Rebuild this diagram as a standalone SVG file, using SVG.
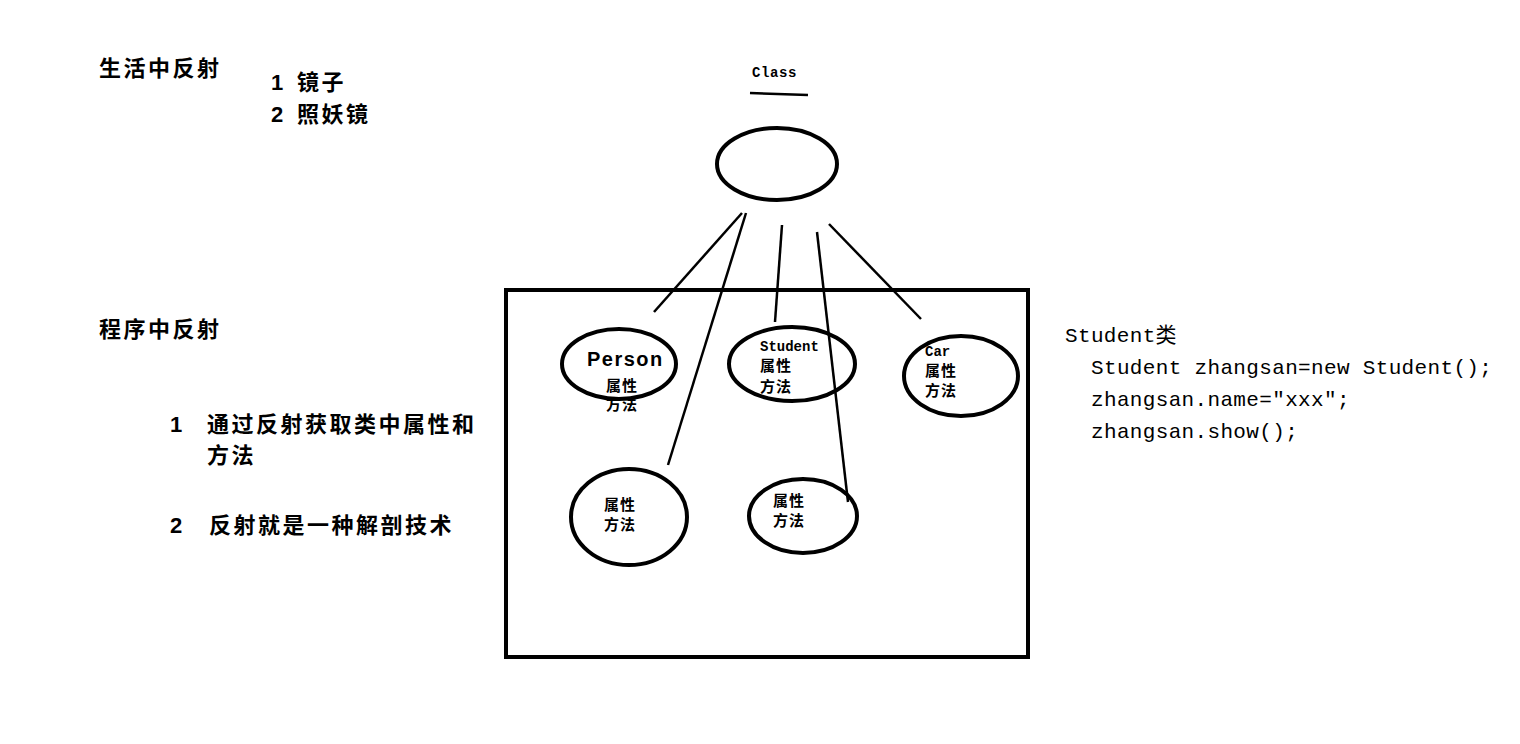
<svg xmlns="http://www.w3.org/2000/svg" width="1520" height="744" viewBox="0 0 1520 744">
<style>
.cjk{font-family:"Liberation Sans","Noto Sans CJK SC",sans-serif;font-weight:bold;fill:#000}
.h{font-size:22px;letter-spacing:2.5px}
.s{font-size:15px;letter-spacing:1px}
.mono{font-family:"Liberation Mono","Noto Sans CJK SC",monospace;fill:#000}
.code{font-size:21px;letter-spacing:0.34px}
.lbl{font-size:14px;font-weight:bold}
.ell{fill:none;stroke:#000;stroke-width:4}
.ln{stroke:#000;stroke-width:2.5;fill:none}
</style>
<rect width="1520" height="744" fill="#fff"/>
<g id="text-left">
<text class="cjk h" x="99" y="76">生活中反射</text>
<text class="cjk h" x="271" y="90">1</text>
<text class="cjk h" x="297" y="90">镜子</text>
<text class="cjk h" x="271" y="122">2</text>
<text class="cjk h" x="297" y="122">照妖镜</text>
<text class="cjk h" x="99" y="337">程序中反射</text>
<text class="cjk h" x="170" y="432">1</text>
<text class="cjk h" x="207" y="432">通过反射获取类中属性和</text>
<text class="cjk h" x="207" y="463">方法</text>
<text class="cjk h" x="170" y="533">2</text>
<text class="cjk h" x="209" y="533">反射就是一种解剖技术</text>
</g>
<g id="class-node">
<text class="mono lbl" x="752" y="77" letter-spacing="0.6">Class</text>
<path class="ln" d="M750 93 L808 95"/>
<ellipse class="ell" cx="777" cy="164" rx="60" ry="36"/>
</g>
<g id="container">
<rect x="506" y="290" width="522" height="367" fill="none" stroke="#000" stroke-width="4"/>
</g>
<g id="connectors">
<path class="ln" d="M742 213 L654 312"/>
<path class="ln" d="M746 213 L668 465"/>
<path class="ln" d="M782 225 L775 322"/>
<path class="ln" d="M817 232 L848 502"/>
<path class="ln" d="M829 224 L921 319"/>
</g>
<g id="person">
<ellipse class="ell" cx="619" cy="364" rx="57" ry="35"/>
<text class="cjk" x="587" y="366" font-size="20" letter-spacing="1.5">Person</text>
<text class="cjk s" x="606" y="391">属性</text>
<text class="cjk s" x="606" y="410">方法</text>
</g>
<g id="student">
<ellipse class="ell" cx="792" cy="364" rx="63" ry="37"/>
<text class="mono lbl" x="760" y="351">Student</text>
<text class="cjk s" x="760" y="371">属性</text>
<text class="cjk s" x="760" y="392">方法</text>
</g>
<g id="car">
<ellipse class="ell" cx="961" cy="376" rx="57" ry="40"/>
<text class="mono lbl" x="925" y="356">Car</text>
<text class="cjk s" x="925" y="376">属性</text>
<text class="cjk s" x="925" y="396">方法</text>
</g>
<g id="obj1">
<ellipse class="ell" cx="629" cy="517" rx="58" ry="48"/>
<text class="cjk s" x="604" y="510">属性</text>
<text class="cjk s" x="604" y="530">方法</text>
</g>
<g id="obj2">
<ellipse class="ell" cx="803" cy="516" rx="54" ry="37"/>
<text class="cjk s" x="773" y="506">属性</text>
<text class="cjk s" x="773" y="526">方法</text>
</g>
<g id="code">
<text class="mono code" x="1065" y="342">Student类</text>
<text class="mono code" x="1091" y="374">Student zhangsan=new Student();</text>
<text class="mono code" x="1091" y="406">zhangsan.name="xxx";</text>
<text class="mono code" x="1091" y="438">zhangsan.show();</text>
</g>
</svg>
